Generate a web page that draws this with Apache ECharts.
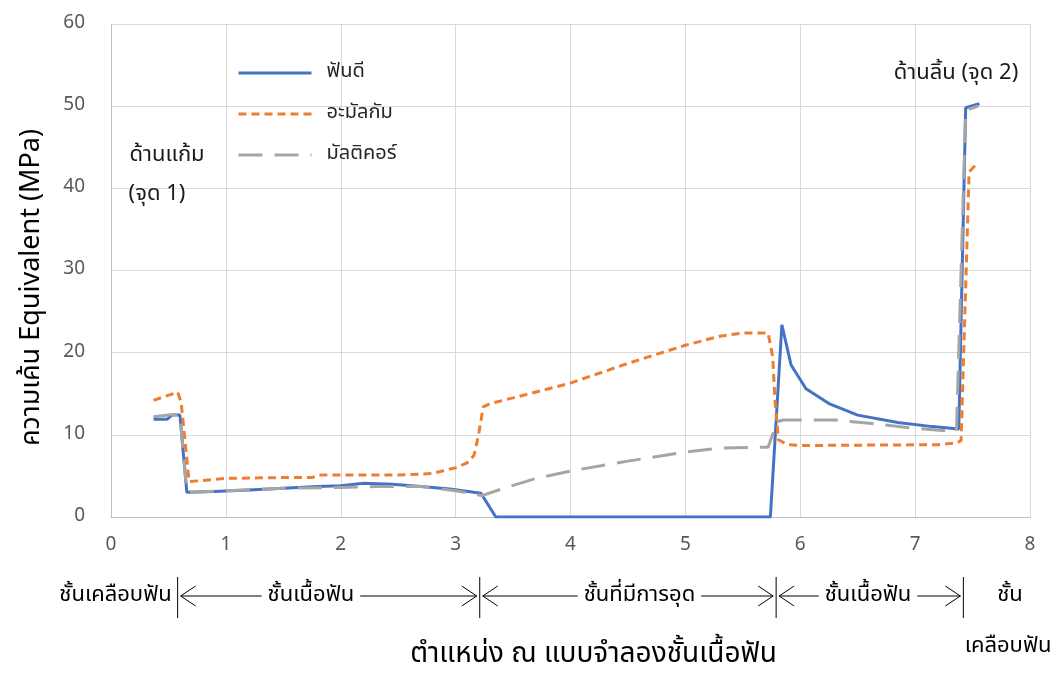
<!DOCTYPE html>
<html>
<head>
<meta charset="utf-8">
<script src="https://cdn.jsdelivr.net/npm/echarts@6/dist/echarts.min.js"></script>
<style>
  html, body { margin: 0; padding: 0; background: #fff; }
  #chart { width: 1057px; height: 677px; }
</style>
</head>
<body>
<div id="chart"></div>
<script>
// Series names
const seriesNames = ['ฟันดี', 'อะมัลกัม', 'มัลติคอร์'];

// ฟันดี (intact tooth): position / equivalent stress (MPa)
const goodX = [0.37, 0.49, 0.53, 0.60, 0.66, 0.90, 1.20, 1.50, 1.80, 2.00, 2.20, 2.45, 2.70, 2.95, 3.22, 3.35, 5.74, 5.84, 5.92, 6.05, 6.25, 6.50, 6.85, 7.15, 7.38, 7.44, 7.56];
const goodY = [11.9, 11.9, 12.4, 12.4, 3.0, 3.1, 3.3, 3.5, 3.7, 3.8, 4.1, 4.0, 3.7, 3.4, 2.9, 0, 0, 23.4, 18.5, 15.6, 13.8, 12.4, 11.5, 11.0, 10.7, 49.8, 50.3];

// อะมัลกัม (amalgam filling)
const amalX = [0.37, 0.58, 0.61, 0.68, 1.00, 1.50, 1.75, 1.80, 2.50, 2.80, 3.00, 3.10, 3.16, 3.20, 3.24, 3.30, 3.50, 4.00, 4.50, 5.00, 5.30, 5.50, 5.72, 5.76, 5.78, 5.81, 5.89, 6.00, 7.20, 7.36, 7.40, 7.47, 7.55];
const amalY = [14.2, 15.2, 14.0, 4.3, 4.7, 4.8, 4.8, 5.1, 5.1, 5.3, 6.0, 6.6, 7.5, 10.0, 13.4, 13.8, 14.5, 16.3, 18.7, 20.9, 22.0, 22.4, 22.4, 19.5, 14.2, 9.4, 8.8, 8.7, 8.8, 9.0, 9.3, 42.0, 43.2];

// มัลติคอร์ (multicore filling)
const multiX = [0.37, 0.50, 0.60, 0.66, 1.00, 1.50, 2.00, 2.30, 2.70, 3.00, 3.23, 3.42, 3.70, 4.00, 4.50, 5.00, 5.30, 5.72, 5.80, 5.85, 6.30, 6.60, 7.00, 7.36, 7.44, 7.55];
const multiY = [12.2, 12.4, 12.5, 3.0, 3.2, 3.5, 3.6, 3.7, 3.7, 3.2, 2.6, 3.5, 4.7, 5.6, 6.8, 7.9, 8.4, 8.5, 11.6, 11.8, 11.8, 11.4, 10.8, 10.4, 49.5, 50.0];

// Axis ticks
const xTicks = [0, 1, 2, 3, 4, 5, 6, 7, 8];
const yTicks = [0, 10, 20, 30, 40, 50, 60];

// Layer boundaries along the model and the layer labels between them
const layerBounds = [0.58, 3.21, 5.79, 7.42];
const layerNames = ['ชั้นเนื้อฟัน', 'ชั้นที่มีการอุด', 'ชั้นเนื้อฟัน'];
const outerLayerName = 'ชั้นเคลือบฟัน';

const zip = (xs, ys) => xs.map((x, i) => [x, ys[i]]);

const FONT = '"Noto Sans Thai", "Leelawadee UI", Tahoma, "DejaVu Sans", "Noto Sans", sans-serif';
const chart = echarts.init(document.getElementById('chart'), null, { renderer: 'canvas' });

const colors = ['#4472C4', '#ED7D31', '#A5A5A5'];
const dashes = ['solid', [8, 5], [24, 12]];
const dataSets = [zip(goodX, goodY), zip(amalX, amalY), zip(multiX, multiY)];

chart.setOption({
  animation: false,
  backgroundColor: '#ffffff',
  textStyle: { fontFamily: FONT },
  grid: { left: 111, right: 27, top: 24, bottom: 160 },
  legend: {
    orient: 'vertical',
    left: 237,
    top: 60,
    padding: 0,
    itemWidth: 73,
    itemHeight: 14,
    itemGap: 15,
    itemStyle: { opacity: 0 },
    lineStyle: { width: 3 },
    textStyle: { fontSize: 20, color: '#262626', lineHeight: 26, padding: [0, 0, 0, 10], fontFamily: FONT },
    data: seriesNames
  },
  xAxis: {
    type: 'value',
    min: xTicks[0],
    max: xTicks[xTicks.length - 1],
    interval: 1,
    axisLine: { show: true, lineStyle: { color: '#bfbfbf', width: 1 } },
    axisTick: { show: false },
    axisLabel: { color: '#595959', fontSize: 19, margin: 20, fontFamily: FONT },
    splitLine: { show: true, lineStyle: { color: '#d9d9d9', width: 1 } },
    name: 'ตำแหน่ง ณ แบบจำลองชั้นเนื้อฟัน',
    nameLocation: 'middle',
    nameGap: 125,
    nameTextStyle: { fontSize: 28, color: '#000', padding: [0, 0, 0, 46], fontFamily: FONT }
  },
  yAxis: {
    type: 'value',
    min: yTicks[0],
    max: yTicks[yTicks.length - 1],
    interval: 10,
    axisLine: { show: true, lineStyle: { color: '#bfbfbf', width: 1 } },
    axisTick: { show: false },
    axisLabel: { color: '#595959', fontSize: 19, margin: 26, fontFamily: FONT },
    splitLine: { show: true, lineStyle: { color: '#d9d9d9', width: 1 } },
    name: 'ความเค้น Equivalent (MPa)',
    nameLocation: 'middle',
    nameGap: 64,
    nameTextStyle: { fontSize: 27, color: '#000', padding: [0, 34, 0, 0], fontFamily: FONT }
  },
  series: seriesNames.map((name, i) => ({
    name,
    type: 'line',
    data: dataSets[i],
    symbol: 'none',
    z: 2 + i,
    lineStyle: { color: colors[i], width: 3, type: dashes[i] },
    itemStyle: { color: colors[i] }
  }))
});

// Annotations and the layer ruler under the x axis
function drawExtras() {
  const px = (x) => chart.convertToPixel({ gridIndex: 0 }, [x, 0])[0];
  const noteStyle = { fontSize: 22, fill: '#1a1a1a', fontFamily: FONT };
  const labelStyle = { fontSize: 22, fill: '#000', fontFamily: FONT };
  const els = [];
  const note = (text, x, y) => els.push({
    type: 'text', x, y,
    style: Object.assign({ text, align: 'center', verticalAlign: 'middle' }, noteStyle)
  });

  // point annotations
  note('ด้านแก้ม', 167, 157);
  note('(จุด 1)', 157, 196);
  note('ด้านลิ้น (จุด 2)', 956, 75);

  const yMid = 596;
  const barTop = 577, barBot = 618;
  const bx = layerBounds.map(px);

  // boundary bars
  bx.forEach((x) => {
    els.push({ type: 'line', shape: { x1: x, y1: barTop, x2: x, y2: barBot }, style: { stroke: '#000', lineWidth: 1 } });
  });

  // arrows between boundaries, label sitting on the line
  const labelCenters = [1.74, 4.6, 6.59];
  for (let i = 0; i < layerNames.length; i++) {
    const a = bx[i] + 3, b = bx[i + 1] - 3;
    els.push({ type: 'line', shape: { x1: a, y1: yMid, x2: b, y2: yMid }, style: { stroke: '#000', lineWidth: 1 } });
    els.push({ type: 'polyline', shape: { points: [[a + 15, yMid - 10], [a, yMid], [a + 15, yMid + 10]] }, style: { stroke: '#000', lineWidth: 1, fill: null } });
    els.push({ type: 'polyline', shape: { points: [[b - 15, yMid - 10], [b, yMid], [b - 15, yMid + 10]] }, style: { stroke: '#000', lineWidth: 1, fill: null } });
    els.push({
      type: 'text', x: px(labelCenters[i]), y: yMid + 1,
      style: Object.assign({ text: layerNames[i], align: 'center', verticalAlign: 'middle', backgroundColor: '#fff', padding: [2, 6] }, labelStyle)
    });
  }

  // enamel labels at both ends
  els.push({ type: 'text', x: bx[0] - 6, y: yMid + 1, style: Object.assign({ text: outerLayerName, align: 'right', verticalAlign: 'middle' }, labelStyle) });
  els.push({ type: 'text', x: 1010, y: yMid + 1, style: Object.assign({ text: 'ชั้น', align: 'center', verticalAlign: 'middle' }, labelStyle) });
  els.push({ type: 'text', x: 1008, y: 648, style: Object.assign({ text: 'เคลือบฟัน', align: 'center', verticalAlign: 'middle' }, labelStyle) });

  chart.setOption({ graphic: els });
}
drawExtras();
</script>
</body>
</html>
